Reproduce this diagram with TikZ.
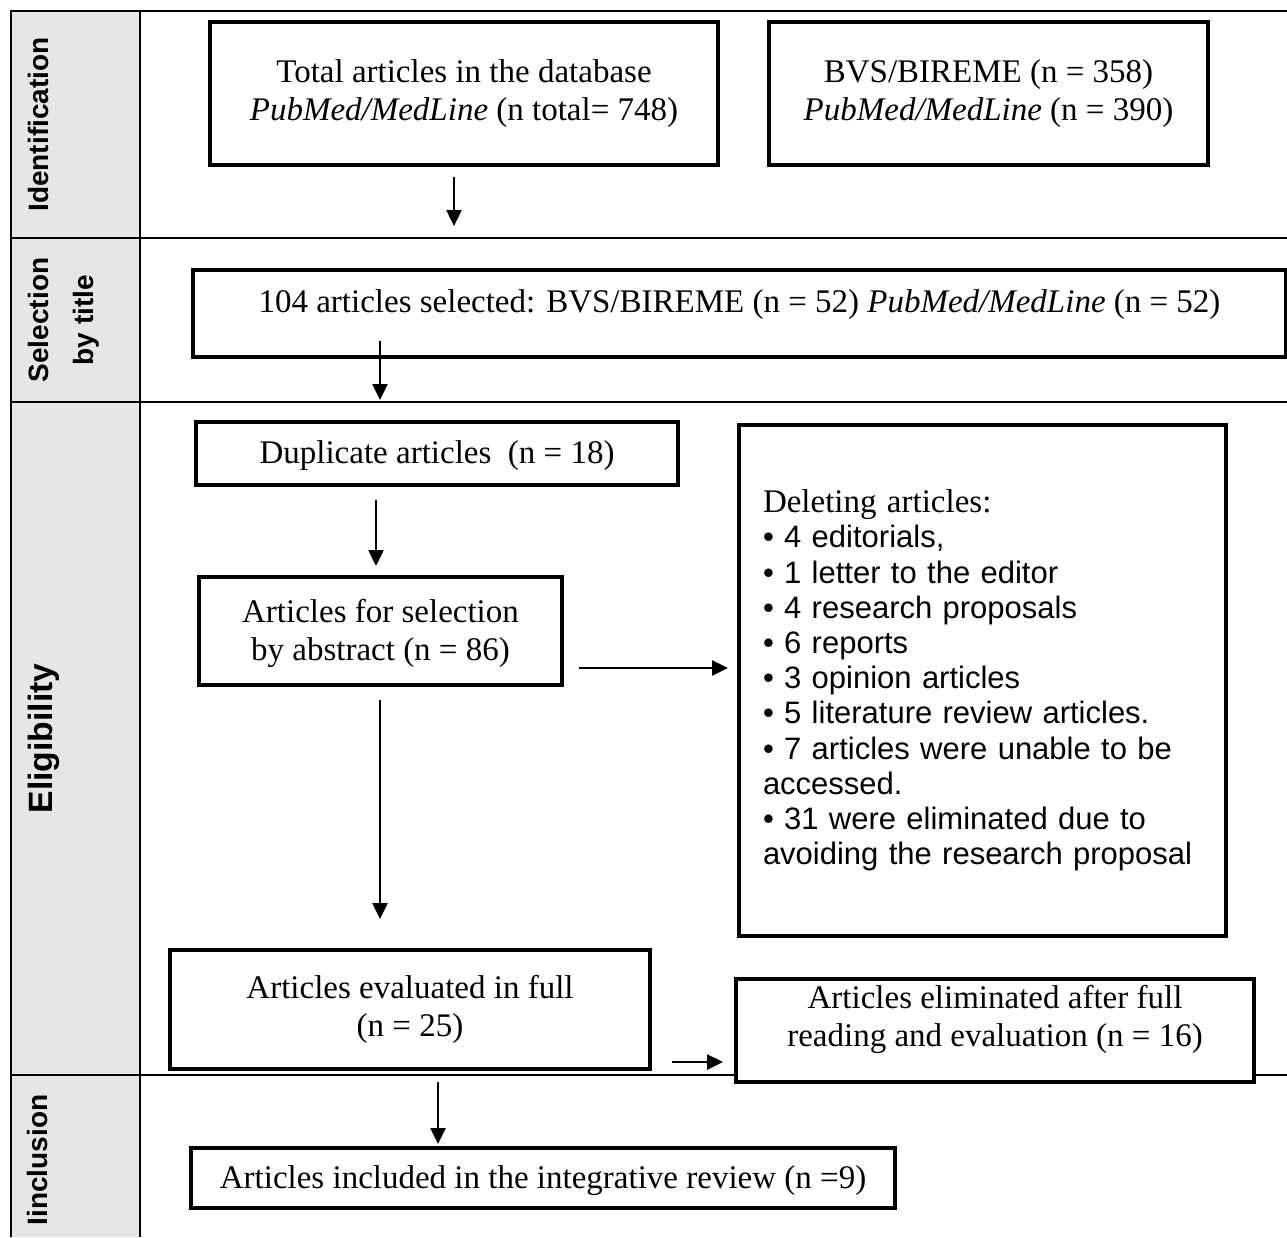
\documentclass[tikz,border=0pt]{standalone}
\usepackage{fontspec}
\setmainfont{Liberation Serif}
\setsansfont{Liberation Sans}[BoldFont={Liberation Sans Bold}]
\usetikzlibrary{arrows.meta,calc}
\definecolor{labelgray}{RGB}{230,230,230}
\begin{document}
\begin{tikzpicture}[x=1pt,y=-1pt,
  box/.style={draw=black,line width=4pt,fill=white,anchor=north west,inner sep=0pt},
  btext/.style={font=\fontsize{33}{38}\selectfont,align=center,inner sep=0pt},
  grid/.style={line width=2.5pt},
  arr/.style={line width=2.5pt,-{Triangle[length=16pt,width=15pt]}},
  lab/.style={font=\sffamily\bfseries\fontsize{28}{33}\selectfont,rotate=90,anchor=base,inner sep=0pt}
]
\useasboundingbox (0,0) rectangle (1287,1237);
% table
\fill[labelgray] (11,11) rectangle (140,1237);
\draw[grid] (1287,11) -- (11,11) -- (11,1237);
\draw[grid] (140,11) -- (140,1237);
\draw[grid] (11,238) -- (1287,238);
\draw[grid] (11,402) -- (1287,402);
\draw[grid] (11,1075) -- (1287,1075);
% row labels
\node[lab] (lid) at (48,124.5) {Identification};
\node[lab] (lsel1) at (48,320) {Selection};
\node[lab] (lsel2) at (93,320) {by title};
\node[lab,font=\sffamily\bfseries\fontsize{33.7}{40}\selectfont] (lel) at (52,738.5) {Eligibility};
\node[lab] (lin) at (47,1160) {Iinclusion};
% boxes
\node[box,minimum width=508pt,minimum height=143pt] (b1) at (208,20) {};
\node[btext] (b1t) at (b1.center) {Total articles in the database\\\textit{PubMed/MedLine} (n total= 748)};
\node[box,minimum width=439pt,minimum height=143pt] (b2) at (767,20) {};
\node[btext] (b2t) at (b2.center) {BVS/BIREME (n = 358)\\\textit{PubMed/MedLine} (n = 390)};
\node[box,minimum width=1093pt,minimum height=87pt] (b3) at (191,268) {};
\node[btext] (b3t) at ($(b3.center)+(0,-9)$) {104 articles selected: BVS/BIREME (n = 52) \textit{PubMed/MedLine} (n = 52)};
\node[box,minimum width=482pt,minimum height=63pt] (b4) at (194,420) {};
\node[btext] (b4t) at ($(b4.center)+(0,2)$) {Duplicate articles\ \ (n = 18)};
\node[box,minimum width=363pt,minimum height=108pt] (b5) at (197,575) {};
\node[btext] (b5t) at ($(b5.center)+(0,2)$) {Articles for selection\\by abstract (n = 86)};
\node[box,text width=439pt,inner xsep=24pt,minimum height=511pt,align=left,
  font=\sffamily\fontsize{31}{35.2}\selectfont] (b9) at (737,423)
  {{\rmfamily\fontsize{33}{35.2}\selectfont Deleting articles:}\\
   • 4 editorials,\\
   • 1 letter to the editor\\
   • 4 research proposals\\
   • 6 reports\\
   • 3 opinion articles\\
   • 5 literature review articles.\\
   • 7 articles were unable to be\\
   accessed.\\
   • 31 were eliminated due to\\
   avoiding the research proposal};
\node[box,minimum width=480pt,minimum height=119pt] (b6) at (168,948) {};
\node[btext] (b6t) at (b6.center) {Articles evaluated in full\\(n = 25)};
\node[box,minimum width=518pt,minimum height=103pt] (b7) at (734,977) {};
\node[btext] (b7t) at ($(b7.center)+(0,-11)$) {Articles eliminated after full\\reading and evaluation (n = 16)};
\node[box,minimum width=704pt,minimum height=60pt] (b8) at (189,1146) {};
\node[btext] (b8t) at ($(b8.center)+(0,3)$) {Articles included in the integrative review (n =9)};
% arrows
\coordinate (a1s) at (454,177); \coordinate (a1e) at (454,226);
\coordinate (a2s) at (380,341); \coordinate (a2e) at (380,400);
\coordinate (a3s) at (376,500); \coordinate (a3e) at (376,566);
\coordinate (a4s) at (579,668); \coordinate (a4e) at (728,668);
\coordinate (a5s) at (380,700); \coordinate (a5e) at (380,919);
\coordinate (a6s) at (672,1062); \coordinate (a6e) at (723,1062);
\coordinate (a7s) at (438,1082); \coordinate (a7e) at (438,1144);
\draw[arr] (a1s) -- (a1e);
\draw[arr] (a2s) -- (a2e);
\draw[arr] (a3s) -- (a3e);
\draw[arr] (a4s) -- (a4e);
\draw[arr] (a5s) -- (a5e);
\draw[arr] (a6s) -- (a6e);
\draw[arr] (a7s) -- (a7e);
\end{tikzpicture}
\end{document}
